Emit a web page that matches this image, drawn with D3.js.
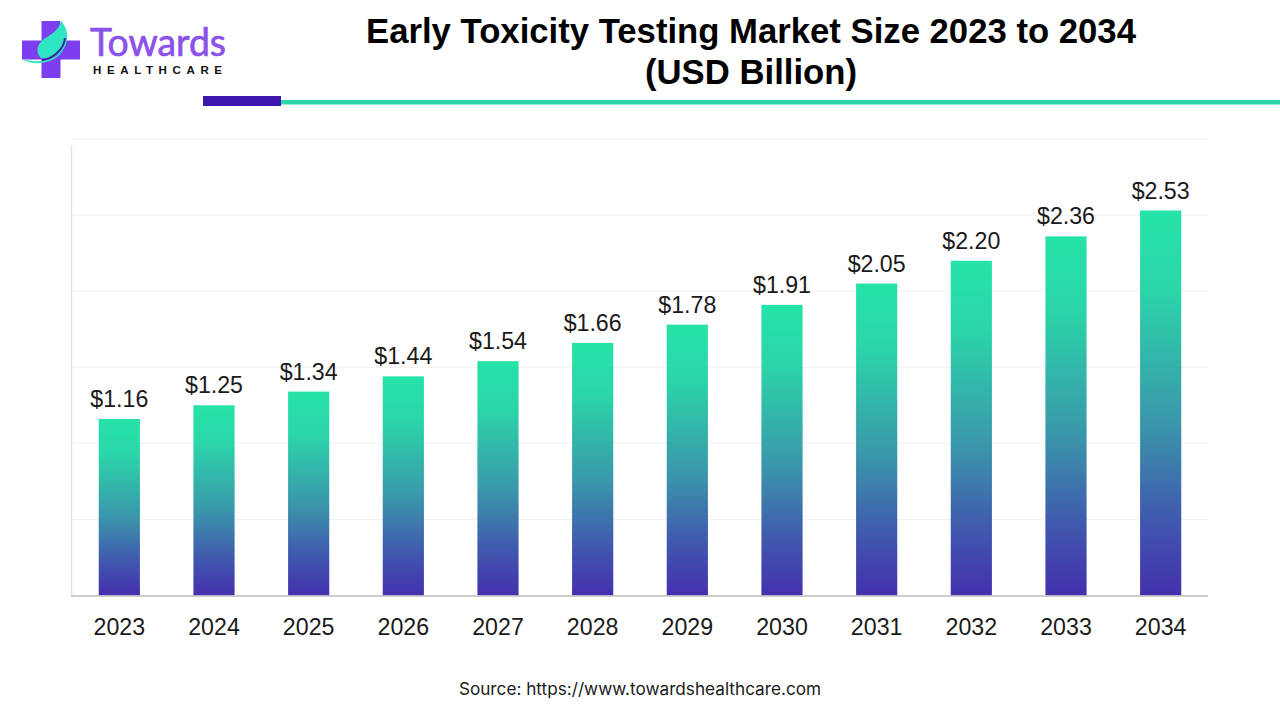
<!DOCTYPE html>
<html><head><meta charset="utf-8">
<script src="https://cdn.jsdelivr.net/npm/d3@7"></script>
<style>html,body{margin:0;padding:0;background:#fff}svg{display:block}</style>
</head><body><svg id="c" width="1280" height="720"></svg>
<script>
const years = ["2023","2024","2025","2026","2027","2028","2029","2030","2031","2032","2033","2034"];
const values = [1.16,1.25,1.34,1.44,1.54,1.66,1.78,1.91,2.05,2.20,2.36,2.53];
const gridTicks = [0.5,1,1.5,2,2.5,3];
const titleLines = ["Early Toxicity Testing Market Size 2023 to 2034","(USD Billion)"];
const sourceText = "Source: https://www.towardshealthcare.com";

const svg = d3.select("#c");
const font = "Liberation Sans, Arial, sans-serif";
const x = d3.scaleBand().domain(years).range([72,1208]).paddingInner(0.565).paddingOuter(0.2825);
const y = d3.scaleLinear().domain([0,3]).range([595.5,139]);

const defs = svg.append("defs");
const g = defs.append("linearGradient").attr("id","bar").attr("x1",0).attr("x2",0).attr("y1",0).attr("y2",1);
g.append("stop").attr("offset","0").attr("stop-color","#25e3a8");
g.append("stop").attr("offset","0.2").attr("stop-color","#2bd6a9");
g.append("stop").attr("offset","0.55").attr("stop-color","#3a97ab");
g.append("stop").attr("offset","0.8").attr("stop-color","#4059ae");
g.append("stop").attr("offset","1").attr("stop-color","#4430ae");

// Logo
const logo = svg.append("g");
logo.append("path").attr("fill","#7b3ff0")
  .attr("d","M41.5 21H60.5V40.5H80V59.5H60.5V78H41.5V59.5H22V40.5H41.5Z");
logo.append("path").attr("fill","#2fe6c4")
  .attr("d","M61 21C70 30 69 46 60 53C53 58 46 59 41 58C35 52 37 44 44 39C52 34 59 30 61 21Z");
logo.append("path").attr("fill","#2fe6c4")
  .attr("d","M22 59C32 62 50 64 64 50C56 62 36 68 22 59Z");
logo.append("path").attr("fill","none").attr("stroke","#3a1fa0").attr("stroke-width",2)
  .attr("d","M65 38C64 50 52 59 42 60");
logo.append("text").attr("x",90).attr("y",56).attr("font-family","Lato, sans-serif")
  .attr("font-size",39).attr("fill","#8a52e8").attr("stroke","#8a52e8").attr("stroke-width",0.7)
  .attr("textLength",136).attr("lengthAdjust","spacingAndGlyphs").text("Towards");
logo.append("text").attr("x",93).attr("y",74).attr("font-family",font).attr("font-weight",700)
  .attr("font-size",11.5).attr("fill","#111").attr("textLength",129).text("HEALTHCARE");

// Title
svg.append("g").selectAll("text").data(titleLines).join("text")
  .attr("x",751).attr("y",(d,i)=>43+i*41).attr("text-anchor","middle")
  .attr("font-family",font).attr("font-weight",700).attr("font-size",34.7).attr("fill","#000").text(d=>d);

// Header rule
svg.append("rect").attr("x",281).attr("y",100).attr("width",999).attr("height",4.5).attr("fill","#2dd6ab");
svg.append("rect").attr("x",203).attr("y",96).attr("width",78).attr("height",10).attr("fill","#3b17ad");

// Grid
svg.append("g").selectAll("line").data(gridTicks).join("line")
  .attr("x1",72).attr("x2",1208).attr("y1",d=>y(d)).attr("y2",d=>y(d))
  .attr("stroke","#f0f0f0").attr("stroke-width",1);

// Left axis line
svg.append("line").attr("x1",71.5).attr("x2",71.5).attr("y1",145).attr("y2",596).attr("stroke","#e2e2e2").attr("stroke-width",1.5);

// Bars
svg.append("g").selectAll("rect").data(values).join("rect")
  .attr("x",(d,i)=>x(years[i])).attr("width",x.bandwidth())
  .attr("y",d=>y(d)).attr("height",d=>y(0)-y(d)).attr("fill","url(#bar)");

// Baseline
svg.append("line").attr("x1",71).attr("x2",1208).attr("y1",596).attr("y2",596).attr("stroke","#bdbdbd").attr("stroke-width",1.5);

// Value labels
svg.append("g").selectAll("text").data(values).join("text")
  .attr("x",(d,i)=>x(years[i])+x.bandwidth()/2).attr("y",d=>y(d)-12).attr("text-anchor","middle")
  .attr("font-family",font).attr("font-size",23.2).attr("fill","#1a1a1a").text(d=>"$"+d.toFixed(2));

// Year labels
const xAxis = d3.axisBottom(x).tickSize(0).tickPadding(0);
const ax = svg.append("g").attr("transform","translate(0,634.5)").call(xAxis);
ax.select(".domain").remove();
ax.selectAll("text").attr("y",0).attr("dy",0).attr("font-family",font).attr("font-size",23.2).attr("fill","#1a1a1a");

// Source
svg.append("text").attr("x",640).attr("y",694.5).attr("text-anchor","middle")
  .attr("font-family","Inter, sans-serif").attr("font-size",17.2).attr("fill","#1a1a1a").text(sourceText);
</script></body></html>
